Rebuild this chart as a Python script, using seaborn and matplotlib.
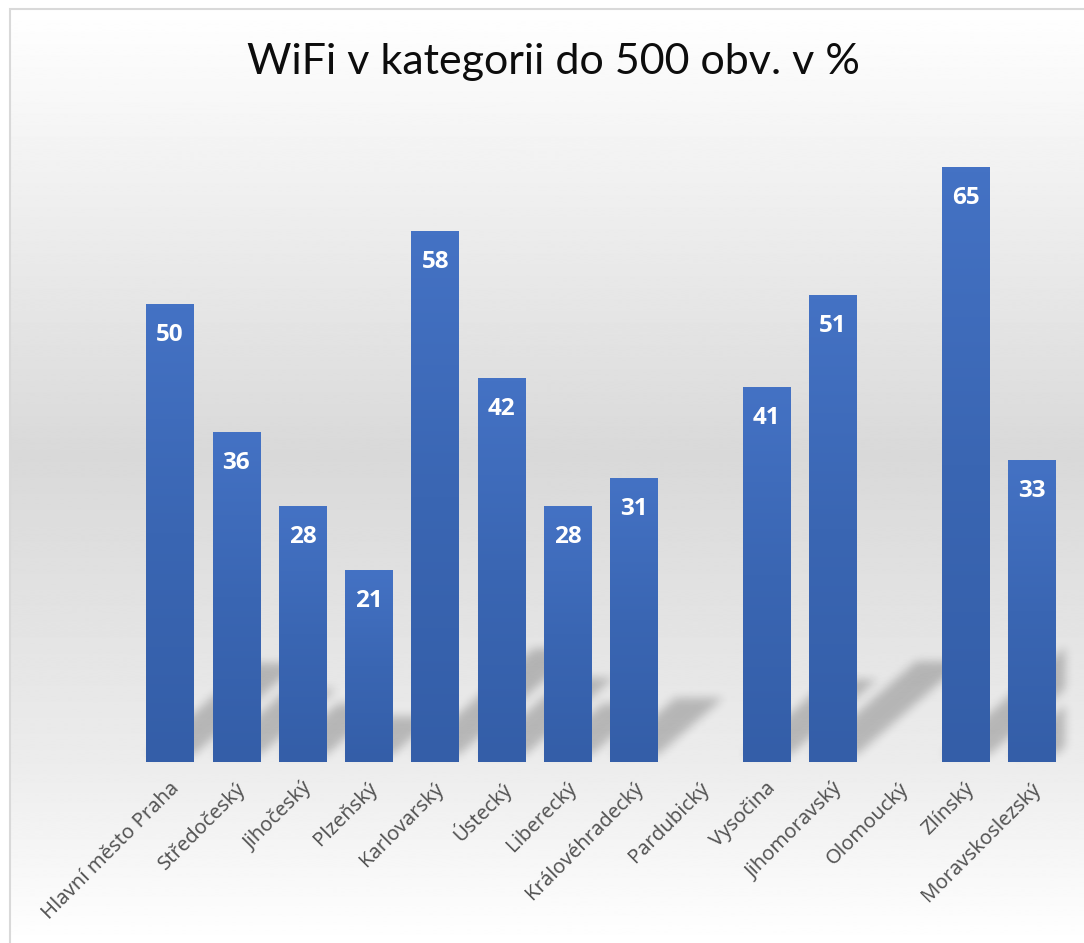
import numpy as np
import pandas as pd
import matplotlib
matplotlib.use("Agg")
import matplotlib.pyplot as plt
import seaborn as sns
from matplotlib.patches import Polygon, Rectangle
from matplotlib.collections import PatchCollection
from matplotlib.colors import LinearSegmentedColormap
from matplotlib.transforms import ScaledTranslation

# ---------------- data ----------------
title = "WiFi v kategorii do 500 obv. v %"
regions = ["Hlavní město Praha", "Středočeský", "Jihočeský", "Plzeňský",
           "Karlovarský", "Ústecký", "Liberecký", "Královéhradecký",
           "Pardubický", "Vysočina", "Jihomoravský", "Olomoucký",
           "Zlínský", "Moravskoslezský"]
values = [50, 36, 28, 21, 58, 42, 28, 31, np.nan, 41, 51, np.nan, 65, 33]

df = pd.DataFrame({"region": regions, "value": values})

# ---------------- style ----------------
sns.set_theme(style="white")
plt.rcParams["font.family"] = ["Noto Sans", "DejaVu Sans"]

W, H = 1084, 943
fig = plt.figure(figsize=(W / 100, H / 100), dpi=100)
fig.patch.set_facecolor("white")

# chart-area background gradient
bg = fig.add_axes([0, 0, 1, 1], zorder=-10)
bg.set_axis_off()
ypix = np.arange(H)
gray = np.interp(ypix, [0, 450, 760, H], [1.0, 0.85, 0.925, 1.0])
bg.imshow(gray[:, None], cmap="gray", vmin=0, vmax=1, aspect="auto",
          extent=[10 / W, 1, 0, 1 - 9 / H], interpolation="bilinear")
bg.set_xlim(0, 1)
bg.set_ylim(0, 1)
fig.add_artist(Rectangle((10 / W, -0.05), 1.2, 1 - 9 / H + 0.05,
                         transform=fig.transFigure, fill=False,
                         edgecolor="#d9d9d9", lw=1.5))

# plot area
left, right = 137 / W, 1065 / W
bottom, top = 1 - 762 / H, 1 - 122 / H
ax = fig.add_axes([left, bottom, right - left, top - bottom])
ax.patch.set_alpha(0)

sns.barplot(data=df, x="region", y="value", order=regions, color="#4472C4",
            saturation=1, width=0.72, errorbar=None, ax=ax, zorder=2,
            linewidth=0, edgecolor="none")

ax.set_xlim(-0.5, len(regions) - 0.5)
ax.set_ylim(0, 70)

bar_cmap = LinearSegmentedColormap.from_list("bar", ["#345EA8", "#3A66B3", "#4472C4"])
grad = np.linspace(0, 1, 128)[:, None]

shadow_polys = []
for p in ax.patches:
    h = p.get_height()
    if not np.isfinite(h) or h <= 0:
        continue
    p.set_linewidth(0)
    x0 = p.get_x()
    x1 = x0 + p.get_width()
    ax.imshow(grad, cmap=bar_cmap, origin="lower", aspect="auto",
              extent=[x0, x1, 0, h], zorder=2.5, interpolation="bilinear")
    # perspective floor shadow derived from the bar
    b = 0.8
    dx = 0.0317 * h
    dy = 0.20 * h
    shadow_polys.append(Polygon([(x0, b), (x1, b), (x1 + dx, b + dy), (x0 + dx, b + dy)]))
    ax.annotate(f"{h:.0f}", (x0 + p.get_width() / 2, h), xytext=(0, -22),
                textcoords="offset points", ha="center", va="center",
                color="white", fontsize=17.5, fontweight="bold",
                family=["Open Sans", "DejaVu Sans"], zorder=5)


def _box_safe(a, r, axis):
    a = np.moveaxis(a, axis, 0)
    c = np.cumsum(np.pad(a, ((r + 1, r), (0, 0))), axis=0)
    res = (c[2 * r + 1:] - c[:-(2 * r + 1)])[: a.shape[0]] / (2 * r + 1)
    return np.moveaxis(res, 0, axis)


class Blur:
    def __init__(self, r, alpha):
        self.r = r
        self.alpha = alpha

    def __call__(self, im, dpi):
        pad = self.r * 4
        a = np.pad(im[..., 3], pad)
        for _ in range(3):
            a = _box_safe(a, self.r, 0)
            a = _box_safe(a, self.r, 1)
        out = np.zeros(a.shape + (4,))
        out[..., 3] = a * self.alpha
        return out, -pad, -pad


shadows = PatchCollection(shadow_polys, facecolor="black", edgecolor="none", zorder=1)
shadows.set_agg_filter(Blur(4, 0.22))
ax.add_collection(shadows)

ax.set_xlim(-0.5, len(regions) - 0.5)
ax.set_ylim(0, 70)

ax.set_xlabel("")
ax.set_ylabel("")
ax.set_yticks([])
for s in ax.spines.values():
    s.set_visible(False)
ax.tick_params(axis="x", length=0, pad=17)
ax.set_xticks(range(len(regions)))
ax.set_xticklabels(regions, rotation=45, ha="right", va="center",
                   rotation_mode="anchor", color="#545454", fontsize=14.5,
                   fontweight="medium", family=["Noto Sans", "DejaVu Sans"])
shift = ScaledTranslation(6 / 100, 0, fig.dpi_scale_trans)
for lab in ax.get_xticklabels():
    lab.set_transform(lab.get_transform() + shift)

fig.text(553 / W, 1 - 62 / H, title, ha="center", va="center",
         fontsize=31, color="#0d0d0d", family=["Lato", "DejaVu Sans"])

fig.savefig("out.png", dpi=100)
